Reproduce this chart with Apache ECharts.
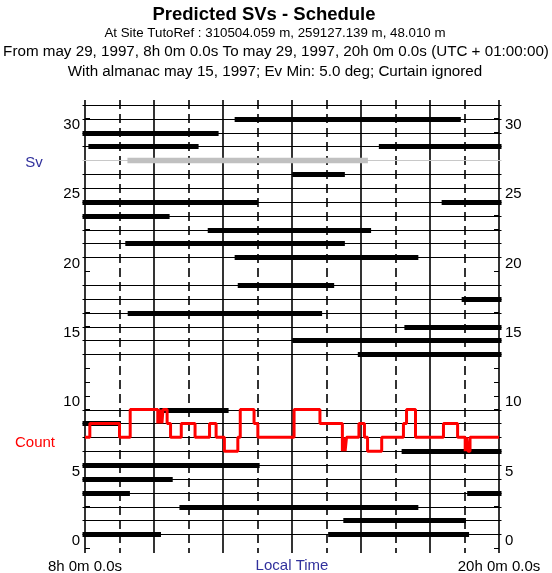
<!DOCTYPE html>
<html><head><meta charset="utf-8">
<script src="https://cdn.jsdelivr.net/npm/echarts@6/dist/echarts.min.js"></script>
<style>html,body{margin:0;padding:0;background:#fff}#c{width:552px;height:573px}</style>
</head><body><div id="c"></div>
<script>
// ---- texts ----
const titleText = 'Predicted SVs - Schedule';
const subtitleLines = [
  'At Site TutoRef : 310504.059 m, 259127.139 m, 48.010 m',
  'From may 29, 1997, 8h 0m 0.0s To may 29, 1997, 20h 0m 0.0s (UTC + 01:00:00)',
  'With almanac may 15, 1997; Ev Min: 5.0 deg; Curtain ignored'
];
const xAxisName = 'Local Time';
const svAxisName = 'Sv';
const countName = 'Count';

// ---- ticks ----
const hourTicks = [8, 9, 10, 11, 12, 13, 14, 15, 16, 17, 18, 19, 20];
const timeTickValues = [8, 20];
const timeTickLabels = ['8h 0m 0.0s', '20h 0m 0.0s'];
const svTickValues = [0, 5, 10, 15, 20, 25, 30];
const svMinorTicks = [0,1,2,3,4,5,6,7,8,9,10,11,12,13,14,15,16,17,18,19,20,21,22,23,24,25,26,27,28,29,30,31,32];

// ---- satellites ----
const svRowsWithLine = [1,2,3,4,5,6,7,8,9,10,14,15,16,17,18,19,21,22,23,24,25,26,27,28,29,30,31,32];
const unhealthySv = [28];

// visibility passes (hours, local time)
const passSv    = [31,    30,    29,    29,    28,    27,    25,    25,    24,    23,    22,    21,    19,    18,    17,    16,    15,    14,    10,    9,    7,     6,     5,     4,    4,     3,     2,     1,     1];
const passStart = [12.41, 8.00,  8.17,  16.59, 9.31,  14.08, 8.00,  18.41, 8.00,  11.63, 9.24,  12.41, 12.50, 18.99, 9.31,  17.33, 14.08, 15.98, 10.23, 8.00, 17.25, 8.00,  8.00,  8.00, 19.15, 10.81, 15.56, 8.00,  15.12];
const passEnd   = [18.82, 11.80, 11.22, 20.00, 16.12, 15.46, 12.94, 20.00, 10.38, 16.22, 15.46, 17.59, 15.15, 20.00, 14.80, 20.00, 20.00, 20.00, 12.09, 8.97, 20.00, 12.99, 10.47, 9.23, 20.00, 17.59, 18.97, 10.13, 19.06];

// ---- visible count (step) ----
const countTime  = [8.00, 8.14, 9.00, 9.31, 10.11, 10.14, 10.17, 10.20, 10.23, 10.26, 10.38, 10.48, 10.79, 11.19, 11.61, 11.80, 12.04, 12.43, 12.50, 12.90, 13.01, 14.06, 14.81, 15.46, 15.50, 15.54, 15.58, 15.94, 16.10, 16.19, 16.60, 17.23, 17.32, 17.58, 18.39, 18.80, 19.02, 19.06, 19.10, 19.16, 20.00];
const countValue = [8,    9,    8,    10,   9,     10,    9,     10,    9,     10,    9,     8,     9,     8,     9,     8,     7,     8,     10,    9,     8,     10,    9,     7,     8,     7,     8,     9,     8,     7,     8,     9,     10,    8,     9,     8,     7,     8,     7,     8,     8];

const Y_MIN = -0.35, Y_MAX = 32.35;
const X_MIN = 8, X_MAX = 20;
const BLUE = '#30309c';
const FONT = 'Liberation Sans, Arial, sans-serif';

const chart = echarts.init(document.getElementById('c'), null, {renderer: 'canvas'});

const gridData = hourTicks.map(h => [h]);
const rowData = svRowsWithLine.map(v => [X_MIN, v]);
const passData = passSv.map((sv, i) => [passStart[i], passEnd[i], sv]);
const countData = countTime.map((t, i) => [t, countValue[i]]);

const yAxisBase = {
  type: 'value', min: Y_MIN, max: Y_MAX,
  axisLine: {show: false},
  splitLine: {show: false},
  axisTick: {show: true, inside: true, length: 5, customValues: svMinorTicks, lineStyle: {color: '#000', width: 1}},
  axisLabel: {customValues: svTickValues, color: '#000', fontSize: 15, fontFamily: FONT, verticalAlign: 'bottom'}
};

const option = {
  animation: false,
  backgroundColor: '#fff',
  grid: {left: 85, width: 414, top: 100, height: 453, containLabel: false, outerBoundsMode: 'none'},
  xAxis: {
    type: 'value', min: X_MIN, max: X_MAX,
    axisLine: {show: false}, axisTick: {show: false}, splitLine: {show: false},
    axisLabel: {
      customValues: timeTickValues, color: '#000', fontSize: 15, fontFamily: FONT, margin: 6,
      formatter: v => timeTickLabels[timeTickValues.indexOf(v)] || ''
    }
  },
  yAxis: [
    Object.assign({}, yAxisBase, {position: 'left', axisLabel: Object.assign({}, yAxisBase.axisLabel, {margin: 5})}),
    Object.assign({}, yAxisBase, {position: 'right', axisLabel: Object.assign({}, yAxisBase.axisLabel, {margin: 6})})
  ],
  graphic: [
    {type: 'text', x: 264, y: 15, style: {text: titleText, font: 'bold 18.5px ' + FONT, fill: '#000', align: 'center', verticalAlign: 'middle'}},
    {type: 'text', x: 275, y: 33, style: {text: subtitleLines[0], font: '13.3px ' + FONT, fill: '#000', align: 'center', verticalAlign: 'middle'}},
    {type: 'text', x: 276, y: 52, style: {text: subtitleLines[1], font: '15.2px ' + FONT, fill: '#000', align: 'center', verticalAlign: 'middle'}},
    {type: 'text', x: 275, y: 72, style: {text: subtitleLines[2], font: '15.2px ' + FONT, fill: '#000', align: 'center', verticalAlign: 'middle'}},
    {type: 'text', x: 34, y: 163, style: {text: svAxisName, font: '15px ' + FONT, fill: BLUE, align: 'center', verticalAlign: 'middle'}},
    {type: 'text', x: 35, y: 443, style: {text: countName, font: '15px ' + FONT, fill: '#ff0000', align: 'center', verticalAlign: 'middle'}},
    {type: 'text', x: 292, y: 566, style: {text: xAxisName, font: '15px ' + FONT, fill: BLUE, align: 'center', verticalAlign: 'middle'}}
  ],
  series: [
    {
      type: 'custom', name: 'hours', data: gridData, z: 1, silent: true,
      encode: {x: 0},
      renderItem: (params, api) => {
        const h = api.value(0);
        const top = api.coord([h, Y_MAX]);
        const bot = api.coord([h, Y_MIN]);
        const x = Math.round(top[0]);
        const odd = (h % 2) === 1;
        return {type: 'line', shape: {x1: x, y1: top[1], x2: x, y2: bot[1]},
          style: {stroke: '#000', lineWidth: 1.6, lineDash: odd ? [9, 5] : null}};
      }
    },
    {
      type: 'custom', name: 'rows', data: rowData, z: 2, silent: true,
      encode: {x: 0, y: 1},
      renderItem: (params, api) => {
        const v = api.value(1);
        const a = api.coord([X_MIN, v]);
        const b = api.coord([X_MAX, v]);
        const y = Math.round(a[1]) + 0.5;
        const gray = unhealthySv.indexOf(v) >= 0;
        return {type: 'line', shape: {x1: a[0] - 2.5, y1: y, x2: b[0] + 2.5, y2: y},
          style: {stroke: gray ? '#c8c8c8' : '#000', lineWidth: 1.2}};
      }
    },
    {
      type: 'custom', name: 'passes', data: passData, z: 3, silent: true,
      encode: {x: [0, 1], y: 2},
      renderItem: (params, api) => {
        const sv = api.value(2);
        const s = api.coord([api.value(0), sv]);
        const e = api.coord([api.value(1), sv]);
        const y = Math.round(s[1]) + 0.5;
        const gray = unhealthySv.indexOf(sv) >= 0;
        return {type: 'line', shape: {x1: s[0], y1: y, x2: e[0], y2: y},
          style: {stroke: gray ? '#c0c0c0' : '#000', lineWidth: gray ? 5.5 : 5, lineCap: 'square'}};
      }
    },
    {
      type: 'line', name: 'Count', data: countData, step: 'end', symbol: 'none', z: 5, silent: true,
      lineStyle: {color: '#ff0000', width: 3}
    }
  ]
};
chart.setOption(option);
</script>
</body></html>
